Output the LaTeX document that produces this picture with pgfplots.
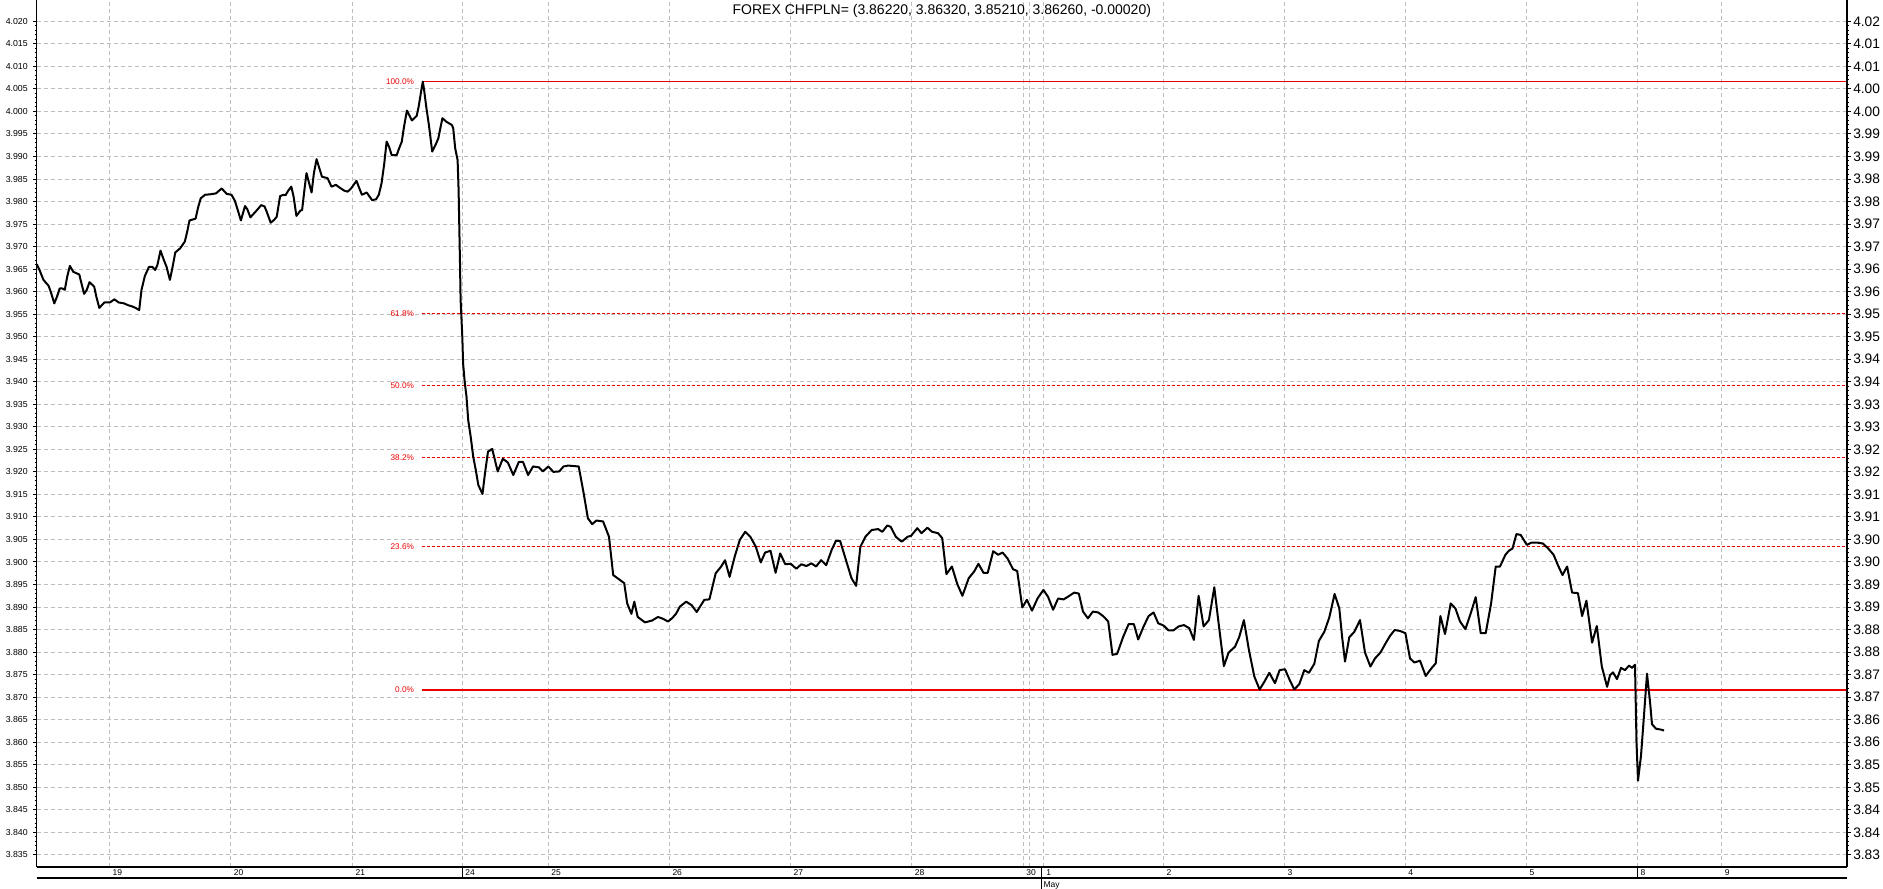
\documentclass[border=0pt]{standalone}
\usepackage{pgfplots}
\pgfplotsset{compat=1.18}
\usepackage{fontspec}
\setmainfont{Liberation Sans}
\definecolor{gridgray}{RGB}{190,190,190}
\definecolor{fibred}{RGB}{235,0,0}
\def\yticklist{3.835,3.840,3.845,3.850,3.855,3.860,3.865,3.870,3.875,3.880,3.885,3.890,3.895,3.900,3.905,3.910,3.915,3.920,3.925,3.930,3.935,3.940,3.945,3.950,3.955,3.960,3.965,3.970,3.975,3.980,3.985,3.990,3.995,4.000,4.005,4.010,4.015,4.020}
\begin{document}
\begin{tikzpicture}
\useasboundingbox (0,0) rectangle (753.2pt,355.6pt);
\begin{axis}[
  at={(14.68pt,8.8pt)}, anchor=south west,
  scale only axis, width=724.12pt, height=346.8pt,
  xmin=36.7, xmax=1847, ymin=3.83231, ymax=4.02473,
  axis lines*=left, axis line style={-, black, line width=0.6pt},
  clip=false,
  scaled y ticks=false,
  ytick/.expanded={\yticklist},
  minor y tick num=4,
  ytick align=outside, xtick align=inside,
  major tick length=1.4pt, minor tick length=0.8pt,
  every tick/.style={black, line width=0.4pt},
  xtick style={draw=none},
  y tick label style={/pgf/number format/.cd, fixed, fixed zerofill, precision=3, assume math mode=true, /tikz/.cd,
     font=\fontsize{3.5pt}{4pt}\selectfont, inner sep=0pt, xshift=-2pt},
  xtick={109.7,230.8,352.6,462.3,548.3,669.5,790.7,911.8,1023.3,1029,1043.4,1163.7,1284.6,1405.3,1526.6,1637.6,1721.8},
  xticklabels={19,20,21,24,25,26,27,28,30,{},1,2,3,4,5,8,9},
  x tick label style={anchor=north west, inner sep=0pt, xshift=1pt, yshift=-0.8pt, font=\fontsize{3.4pt}{4pt}\selectfont},
  grid=major,
  major grid style={gridgray, dash pattern=on 1.6pt off 1.2pt, line width=0.4pt},
]
% Fibonacci retracement levels
\addplot[fibred, line width=0.45pt] coordinates {(421.7,4.0067)(1847,4.0067)};
\addplot[fibred, line width=0.45pt, dash pattern=on 1.2pt off 0.8pt] coordinates {(421.7,3.95509)(1847,3.95509)};
\addplot[fibred, line width=0.45pt, dash pattern=on 1.2pt off 0.8pt] coordinates {(421.7,3.93915)(1847,3.93915)};
\addplot[fibred, line width=0.45pt, dash pattern=on 1.2pt off 0.8pt] coordinates {(421.7,3.92321)(1847,3.92321)};
\addplot[fibred, line width=0.45pt, dash pattern=on 1.2pt off 0.8pt] coordinates {(421.7,3.90348)(1847,3.90348)};
\addplot[fibred, line width=0.45pt] coordinates {(421.7,3.8716)(1847,3.8716)};
% price
\addplot[black, line width=0.8pt, line join=round] coordinates {
(36.8,3.9661)(39.5,3.9648)(43.5,3.9626)(48.6,3.9613)(51.0,3.9598)(54.3,3.9574)(57.0,3.9589)(59.7,3.9607)(62.4,3.9607)(64.8,3.9604)(67.2,3.9633)(69.9,3.9657)(73.3,3.9644)(79.3,3.9638)(81.4,3.9619)(84.1,3.9595)(86.8,3.9604)(89.5,3.9621)(94.2,3.9611)(96.3,3.9589)(99.3,3.9564)(104.4,3.9576)(109.8,3.9576)(114.5,3.9583)(118.6,3.9576)(124.0,3.9574)(128.0,3.9570)(132.4,3.9567)(135.5,3.9564)(139.2,3.9559)(141.5,3.9604)(144.9,3.9635)(149.0,3.9655)(152.4,3.9655)(155.1,3.9648)(157.4,3.9659)(160.5,3.9691)(163.9,3.9670)(166.6,3.9655)(169.9,3.9626)(172.6,3.9655)(175.3,3.9687)(180.1,3.9696)(184.8,3.9711)(187.2,3.9733)(189.5,3.9758)(195.6,3.9762)(198.0,3.9786)(200.7,3.9807)(205.1,3.9815)(210.2,3.9816)(215.9,3.9818)(221.7,3.9829)(226.7,3.9817)(231.5,3.9815)(234.8,3.9802)(237.5,3.9783)(240.9,3.9758)(245.0,3.9790)(247.3,3.9783)(250.4,3.9765)(255.8,3.9778)(261.2,3.9792)(264.6,3.9789)(266.6,3.9778)(270.7,3.9753)(274.0,3.9759)(276.7,3.9766)(280.1,3.9812)(283.5,3.9815)(285.5,3.9814)(288.2,3.9824)(291.3,3.9833)(293.6,3.9811)(296.4,3.9768)(300.4,3.9780)(302.1,3.9781)(304.8,3.9833)(306.5,3.9863)(309.2,3.9840)(311.6,3.9820)(313.9,3.9863)(316.6,3.9894)(319.3,3.9874)(322.0,3.9855)(327.5,3.9852)(331.5,3.9833)(335.9,3.9837)(338.3,3.9833)(344.3,3.9824)(347.7,3.9822)(351.1,3.9829)(356.5,3.9846)(359.9,3.9826)(361.9,3.9815)(366.7,3.9820)(372.1,3.9803)(376.1,3.9805)(378.8,3.9815)(381.5,3.9840)(384.2,3.9883)(386.6,3.9933)(389.0,3.9922)(391.7,3.9903)(396.7,3.9903)(399.1,3.9918)(401.8,3.9933)(403.8,3.9963)(406.9,4.0002)(411.9,3.9980)(416.7,3.9990)(418.7,4.0011)(421.4,4.0048)(422.8,4.0066)(424.1,4.0048)(426.2,4.0011)(428.9,3.9970)(432.2,3.9911)(435.6,3.9926)(438.3,3.9940)(442.4,3.9985)(446.4,3.9977)(451.8,3.9970)(453.2,3.9963)(455.2,3.9918)(457.6,3.9892)(458.6,3.9826)(459.3,3.9744)(460.0,3.9663)(460.6,3.9582)
(462.3,3.9500)(463.1,3.9441)(464.8,3.9397)(466.5,3.9367)(468.2,3.9315)(470.7,3.9278)(473.2,3.9234)(475.8,3.9204)(478.3,3.9171)(482.5,3.9151)(485.0,3.9197)(488.0,3.9245)(492.2,3.9251)(497.7,3.9201)(502.8,3.9229)(507.8,3.9221)(513.3,3.9193)(518.8,3.9222)(523.0,3.9222)(528.1,3.9193)(533.1,3.9212)(539.0,3.9210)(542.8,3.9201)(548.3,3.9212)(553.4,3.9200)(559.3,3.9201)(563.5,3.9212)(568.1,3.9214)(578.7,3.9212)(583.7,3.9152)(587.9,3.9097)(592.2,3.9084)(596.4,3.9092)(603.1,3.9090)(609.0,3.9056)(613.2,3.8971)(620.0,3.8960)(624.2,3.8953)(627.2,3.8908)(631.4,3.8885)(634.3,3.8912)(637.7,3.8878)(645,3.8866)(652,3.8870)(658,3.8878)(663,3.8874)(668,3.8868)(672,3.8875)(676,3.8885)(679.9,3.8901)(686.2,3.8912)(691.7,3.8904)(696.7,3.8889)(704.3,3.8916)(709.4,3.8917)(715.7,3.8975)(721.2,3.8990)(725.0,3.9004)(729.6,3.8967)(734.7,3.9012)(739.8,3.9049)(745.2,3.9067)(750.3,3.9056)(755.8,3.9034)(760.8,3.8999)(765.1,3.9021)(770.5,3.9025)(775.6,3.8976)(780.2,3.9019)(785.3,3.8995)(790.8,3.8996)(796.3,3.8985)(801.3,3.8995)(806.4,3.8991)(811.4,3.8997)(816.1,3.8990)(821.1,3.9004)(826.2,3.8993)(831.7,3.9027)(835.9,3.9047)(840.1,3.9047)(846.4,3.9001)(851.5,3.8964)(856.1,3.8947)(860.4,3.9034)(865.4,3.9056)(871.7,3.9071)(878.1,3.9073)(882.3,3.9067)(887.3,3.9081)(890.7,3.9078)(895.8,3.9056)(901.7,3.9045)(907.6,3.9056)(911.0,3.9058)(917.3,3.9075)(921.5,3.9064)(927.4,3.9076)(932.1,3.9067)(938.0,3.9064)(942.2,3.9053)(946.4,3.8973)(951.9,3.8990)(957.3,3.8951)(962.4,3.8925)(968.7,3.8964)(974.2,3.8979)(978.4,3.8996)(983.5,3.8976)(987.7,3.8976)(993.2,3.9024)(998.2,3.9016)(1002.5,3.9021)(1007.5,3.9008)(1013.0,3.8984)(1017.2,3.8980)(1022.3,3.8899)(1026.9,3.8916)(1032.0,3.8892)(1037.5,3.8919)(1043.4,3.8938)(1048.0,3.8923)(1053.1,3.8894)(1058.1,3.8919)(1063.6,3.8917)(1068.7,3.8924)(1074.1,3.8932)(1078.8,3.8930)(1083.0,3.8890)
(1087.9,3.8875)(1092.9,3.8890)(1098.2,3.8888)(1103.6,3.8879)(1108.2,3.8868)(1112.5,3.8794)(1117.1,3.8796)(1123.2,3.8834)(1128.6,3.8862)(1133.9,3.8862)(1138.2,3.8828)(1143.6,3.8857)(1148.6,3.8880)(1153.6,3.8888)(1158.2,3.8864)(1163.6,3.8859)(1168.6,3.8848)(1173.2,3.8848)(1178.6,3.8857)(1183.9,3.8860)(1189.3,3.8853)(1193.9,3.8827)(1198.6,3.8925)(1203.6,3.8857)(1208.9,3.8871)(1214.3,3.8944)(1218.6,3.8864)(1223.9,3.8769)(1228.6,3.8799)(1235.0,3.8812)(1239.3,3.8834)(1243.9,3.8871)(1248.9,3.8805)(1254.3,3.8746)(1259.6,3.8717)(1264.3,3.8734)(1269.3,3.8754)(1275.0,3.8731)(1279.6,3.8760)(1285.0,3.8762)(1289.3,3.8740)(1294.3,3.8717)(1299.3,3.8729)(1304.3,3.8760)(1308.9,3.8754)(1314.3,3.8774)(1318.9,3.8825)(1324.3,3.8845)(1329.3,3.8877)(1334.6,3.8929)(1339.3,3.8897)(1342.1,3.8834)(1345.0,3.8779)(1349.3,3.8833)(1354.3,3.8845)(1360.0,3.8871)(1365.0,3.8799)(1370.4,3.8768)(1375.0,3.8786)(1380.4,3.8799)(1385.7,3.8820)(1390.0,3.8836)(1394.6,3.8849)(1400.0,3.8847)(1405.4,3.8842)(1410.0,3.8786)(1414.3,3.8777)(1420.0,3.8781)(1425.7,3.8747)(1431.4,3.8764)(1435.7,3.8775)(1440.4,3.8880)(1445.0,3.8840)(1450.7,3.8908)(1455.4,3.8897)(1460.0,3.8868)(1465.4,3.8851)(1470.7,3.8886)(1475.7,3.8922)(1480.7,3.8842)(1485.7,3.8842)(1491.1,3.8908)(1495.7,3.8990)(1500.0,3.8990)(1505.4,3.9016)(1508.9,3.9025)(1512.5,3.9030)(1516.4,3.9062)(1520.7,3.9060)(1526.8,3.9038)(1531.4,3.9043)(1537.5,3.9043)(1542.9,3.9041)(1548.2,3.9030)(1553.6,3.9016)(1557.9,3.8993)(1562.5,3.8971)(1567.1,3.8990)(1572.1,3.8932)(1577.9,3.8931)(1582.1,3.8880)(1586.4,3.8914)(1592.1,3.8821)(1596.8,3.8858)(1601.8,3.8768)(1607.1,3.8723)(1610.0,3.8749)
(1613,3.8755)(1617,3.8740)(1621,3.8765)(1625,3.8760)(1629,3.8770)(1632,3.8765)(1635,3.8772)(1636.5,3.8600)(1638,3.8515)(1641,3.8570)(1644,3.8660)(1647,3.8752)(1650,3.8690)(1652,3.8640)(1656,3.8630)(1661,3.8628)(1664,3.8626)
};
% fib labels
\begin{scope}[every node/.style={anchor=east, inner sep=0pt, text=fibred, font=\fontsize{3.3pt}{4pt}\selectfont}]
\node at (axis cs:414.5,4.0067) {100.0\%};
\node at (axis cs:414.5,3.95509) {61.8\%};
\node at (axis cs:414.5,3.93915) {50.0\%};
\node at (axis cs:414.5,3.92321) {38.2\%};
\node at (axis cs:414.5,3.90348) {23.6\%};
\node at (axis cs:414.5,3.8716) {0.0\%};
\end{scope}
\node[anchor=north, inner sep=0pt, font=\fontsize{5.6pt}{6.5pt}\selectfont] at (rel axis cs:0.5,1) [yshift=-1.5pt] {FOREX CHFPLN= (3.86220, 3.86320, 3.85210, 3.86260, -0.00020)};
\end{axis}
\begin{axis}[
  at={(14.68pt,8.8pt)}, anchor=south west,
  scale only axis, width=724.12pt, height=346.8pt,
  xmin=36.7, xmax=1847, ymin=3.83231, ymax=4.02473,
  axis y line*=right, axis x line=none, axis line style={-, black, line width=0.6pt},
  ytick/.expanded={\yticklist},
  yticklabels={3.83,3.84,3.84,3.85,3.85,3.86,3.86,3.87,3.87,3.88,3.88,3.89,3.89,3.90,3.90,3.91,3.91,3.92,3.92,3.93,3.93,3.94,3.94,3.95,3.95,3.96,3.96,3.97,3.97,3.98,3.98,3.99,3.99,4.00,4.00,4.01,4.01,4.02},
  minor y tick num=4,
  ytick align=outside,
  major tick length=1.4pt, minor tick length=0.8pt,
  every tick/.style={black, line width=0.4pt},
  y tick label style={font=\fontsize{5.5pt}{6pt}\selectfont, inner sep=0pt, xshift=0.9pt},
]
\addplot[draw=none] coordinates {(40,3.9)};
\end{axis}
% lower date band
\draw[line width=0.6pt] (14.68pt,4.4pt) -- (738.8pt,4.4pt);
\draw[line width=0.4pt] (184.92pt,8.8pt) -- (184.92pt,4.4pt);
\draw[line width=0.4pt] (655.04pt,8.8pt) -- (655.04pt,4.4pt);
\draw[line width=0.4pt] (416.4pt,8.8pt) -- (416.4pt,0pt);
\node[anchor=west, inner sep=0pt, font=\fontsize{3.4pt}{4pt}\selectfont] at (417.2pt,1.6pt) {May};
\end{tikzpicture}
\end{document}
